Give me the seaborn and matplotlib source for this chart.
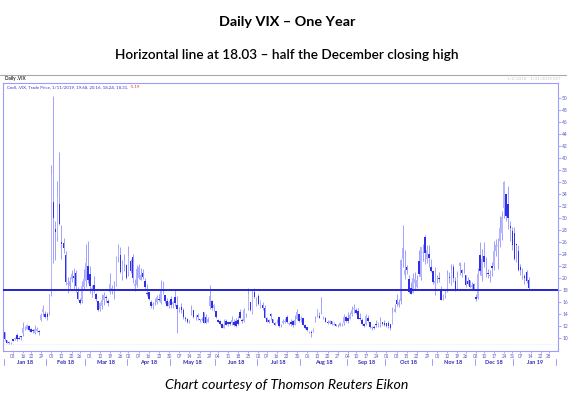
"""
Daily VIX - one year candlestick chart (Eikon style) with a horizontal
line at 18.03, half the December 2018 closing high.
"""

import numpy as np
import pandas as pd
import matplotlib
matplotlib.use("Agg")
import matplotlib.pyplot as plt
import matplotlib.transforms as mtransforms
from matplotlib.lines import Line2D
import seaborn as sns

# Exchange holidays skipped on the date axis
holidays = ["2018-01-15", "2018-02-19", "2018-03-30", "2018-05-28", "2018-07-04",
            "2018-09-03", "2018-11-22", "2018-12-05", "2018-12-25",
            "2019-01-01", "2019-01-21"]

# Daily OHLC, 2018-01-02 .. 2019-01-11 (one row of numbers per month)
vix_open = [
    10.95, 9.70, 9.30, 9.12, 9.80, 9.80, 10.55, 10.02, 10.25, 10.84, 11.79, 11.58, 12.05, 11.52, 11.31, 10.76, 11.24, 11.18, 12.93, 14.37, 14.05,
    13.97, 14.35, 18.44, 32.74, 28.16, 26.87, 32.40, 25.99, 25.77, 23.83, 18.99, 18.59, 19.75, 20.33, 20.87, 17.69, 16.41, 16.19, 18.57,
    19.49, 21.93, 20.73, 18.12, 18.85, 17.30, 16.12, 14.76, 15.41, 16.35, 16.79, 16.14, 17.59, 18.16, 18.23, 18.78, 23.50, 23.91, 20.10, 22.28, 22.10,
    20.92, 22.76, 23.44, 18.71, 18.79, 20.05, 19.66, 20.78, 19.45, 17.52, 17.60, 15.97, 15.54, 15.94, 16.04, 16.55, 15.88, 17.89, 17.11, 16.23, 15.30,
    16.53, 15.72, 16.83, 15.44, 14.60, 15.23, 14.71, 13.40, 13.16, 12.72, 14.43, 14.59, 13.43, 13.77, 13.10, 12.99, 14.27, 13.44, 12.64, 15.28, 16.12, 14.92,
    14.54, 13.05, 12.77, 12.32, 11.74, 12.87, 12.66, 12.69, 12.44, 12.65, 12.86, 13.08, 14.34, 13.06, 12.81, 13.86, 14.76, 16.01, 14.12, 17.71, 15.58,
    16.93, 15.03, 15.50, 15.08, 13.31, 13.06, 14.05, 13.12, 12.43, 12.75, 13.44, 12.15, 12.48, 12.74, 13.56, 12.35, 12.63, 12.79, 12.13, 13.24, 13.93,
    12.94, 13.36, 12.11, 11.83, 11.05, 11.06, 10.97, 12.91, 13.71, 13.73, 14.54, 13.46, 13.34, 12.72, 12.44, 12.83, 12.16, 12.29, 12.10, 12.03, 12.35, 12.42, 13.45,
    13.40, 13.23, 14.00, 14.88, 14.68, 14.57, 13.32, 13.05, 12.25, 12.34, 13.38, 12.60, 11.64, 11.77, 12.36, 12.10, 12.56, 12.61, 12.51,
    12.42, 12.44, 12.38, 12.41, 14.37, 16.39, 15.52, 16.14, 23.12, 20.48, 21.77, 19.90, 18.27, 17.56, 19.12, 18.50, 22.89, 20.18, 24.17, 26.83, 23.10, 24.05, 21.84,
    21.12, 19.10, 20.01, 20.06, 18.04, 16.55, 17.08, 17.93, 20.21, 19.26, 21.82, 19.51, 18.39, 22.03, 21.36, 21.42, 20.48, 19.53, 19.62, 18.54, 18.95,
    16.79, 16.67, 23.81, 20.31, 23.65, 21.82, 20.79, 20.33, 22.02, 21.99, 24.47, 25.27, 26.13, 27.44, 31.62, 33.98, 32.39, 28.60, 27.80,
    27.54, 25.68, 24.53, 21.75, 20.35, 20.33, 21.07, 19.68,
]
vix_high = [
    10.95, 9.70, 9.47, 9.36, 9.84, 10.20, 10.87, 10.31, 10.32, 12.71, 12.03, 12.38, 12.19, 11.70, 11.53, 12.20, 11.88, 11.31, 14.18, 15.52, 14.49,
    14.26, 17.35, 38.80, 50.30, 29.49, 36.17, 41.06, 28.83, 26.64, 24.46, 20.14, 20.23, 21.36, 21.61, 21.37, 18.51, 16.67, 19.56, 21.53,
    25.72, 26.16, 22.06, 18.91, 20.36, 17.44, 16.20, 15.92, 17.41, 17.64, 17.22, 16.51, 20.75, 18.75, 19.46, 23.62, 25.72, 25.11, 22.92, 24.03, 22.29,
    25.29, 23.13, 23.99, 19.81, 22.18, 22.25, 21.67, 21.58, 20.08, 19.03, 17.66, 16.25, 15.96, 16.63, 17.24, 17.41, 19.72, 19.43, 17.18, 16.70, 16.38,
    16.92, 16.17, 18.09, 16.93, 15.14, 15.87, 15.00, 13.62, 13.34, 13.05, 15.58, 14.64, 13.81, 14.11, 13.21, 13.42, 14.31, 13.93, 13.55, 18.78, 16.38, 15.66,
    14.57, 13.23, 12.95, 12.44, 13.14, 13.16, 12.73, 12.77, 13.73, 13.16, 13.38, 13.60, 14.80, 13.35, 15.01, 14.09, 18.38, 16.06, 18.10, 18.32, 16.80,
    17.25, 16.26, 15.95, 15.45, 13.47, 13.20, 14.21, 13.14, 12.74, 13.18, 13.49, 12.38, 13.22, 13.37, 13.78, 12.72, 13.12, 12.98, 13.75, 14.79, 13.99,
    13.61, 13.36, 12.28, 11.85, 11.14, 11.29, 11.65, 13.59, 14.86, 14.29, 16.86, 13.68, 13.43, 12.96, 13.01, 12.85, 12.70, 12.35, 12.38, 12.64, 12.48, 14.06, 13.68,
    14.25, 14.38, 15.34, 15.59, 15.03, 14.98, 14.17, 13.25, 12.53, 14.02, 13.76, 12.73, 12.00, 12.14, 12.95, 12.69, 13.48, 12.72, 12.93,
    12.52, 12.84, 12.39, 15.12, 15.69, 17.36, 16.45, 23.17, 28.84, 24.65, 22.16, 20.58, 19.32, 20.79, 21.03, 20.55, 24.64, 25.23, 25.65, 27.13, 25.49, 25.55, 23.20,
    21.14, 21.87, 20.42, 20.95, 18.73, 17.34, 18.09, 21.31, 21.05, 22.40, 22.29, 20.24, 21.19, 22.67, 21.53, 22.64, 20.49, 20.19, 19.64, 19.29, 19.21,
    17.27, 21.69, 25.94, 24.81, 25.94, 23.43, 21.56, 21.26, 22.74, 26.15, 26.58, 26.69, 30.29, 31.20, 36.20, 34.07, 35.35, 29.49, 28.52,
    28.53, 25.80, 25.56, 22.31, 21.59, 20.66, 21.33, 20.16,
]
vix_low = [
    9.48, 9.12, 8.92, 8.92, 9.46, 9.72, 9.58, 9.80, 9.70, 10.40, 11.26, 11.54, 11.20, 10.94, 10.85, 10.66, 11.04, 10.57, 12.79, 13.65, 13.26,
    13.05, 13.82, 17.05, 22.42, 22.95, 26.13, 28.91, 23.23, 24.11, 18.87, 17.54, 17.96, 19.40, 18.22, 17.62, 16.39, 15.73, 15.85, 18.04,
    18.55, 19.11, 17.45, 16.80, 17.43, 16.12, 14.55, 14.54, 14.86, 15.49, 16.05, 15.41, 17.39, 17.36, 16.53, 18.62, 22.67, 20.78, 19.66, 21.20, 19.91,
    20.36, 20.88, 19.19, 17.87, 18.53, 19.84, 19.66, 19.90, 18.20, 16.94, 16.40, 15.08, 14.83, 15.53, 15.67, 16.20, 15.61, 17.41, 15.79, 15.37, 14.94,
    15.06, 15.00, 15.29, 10.90, 14.28, 14.19, 13.18, 12.82, 12.46, 12.47, 13.75, 13.37, 12.98, 13.06, 12.62, 12.76, 12.49, 12.46, 12.59, 14.76, 14.72, 14.47,
    13.29, 12.59, 12.24, 11.60, 11.64, 12.16, 12.07, 12.17, 12.18, 11.98, 11.83, 12.11, 13.29, 12.56, 12.68, 13.57, 14.61, 14.44, 13.96, 16.61, 15.39,
    15.48, 14.97, 14.63, 13.29, 12.66, 12.46, 12.93, 12.43, 12.10, 12.51, 11.83, 11.77, 12.33, 12.48, 12.46, 12.11, 11.95, 11.91, 12.13, 12.99, 12.70,
    12.74, 12.13, 11.54, 11.12, 10.75, 10.17, 10.95, 12.69, 13.42, 13.27, 13.93, 13.20, 12.60, 12.35, 12.35, 12.19, 12.10, 11.92, 11.90, 11.96, 11.95, 12.20, 12.65,
    12.56, 13.12, 13.63, 14.12, 13.97, 13.15, 12.93, 12.19, 11.80, 12.22, 12.67, 11.73, 11.38, 11.50, 11.80, 11.91, 11.85, 12.10, 12.00,
    11.90, 11.61, 11.34, 12.38, 14.30, 15.40, 15.16, 15.73, 21.90, 19.88, 20.73, 17.58, 17.30, 17.56, 17.98, 18.40, 20.38, 19.65, 22.76, 22.30, 22.47, 21.84, 20.93,
    18.99, 17.12, 19.10, 19.31, 16.28, 16.29, 16.64, 17.63, 19.09, 18.84, 19.41, 17.86, 18.20, 20.55, 20.18, 20.84, 18.58, 18.78, 18.39, 18.07, 17.93,
    16.12, 16.55, 20.43, 19.45, 21.90, 20.21, 19.95, 19.33, 20.27, 21.40, 23.59, 21.57, 25.09, 26.39, 29.99, 29.51, 28.11, 26.22, 24.65,
    23.01, 22.61, 21.14, 20.46, 19.75, 19.06, 19.15, 18.24,
]
vix_close = [
    9.77, 9.15, 9.22, 9.22, 9.52, 10.08, 9.82, 9.88, 10.16, 11.66, 11.91, 12.22, 11.27, 11.03, 11.10, 11.47, 11.58, 11.08, 13.84, 14.79, 13.54,
    13.47, 17.31, 37.32, 29.98, 27.73, 33.46, 29.06, 25.61, 24.97, 19.26, 19.13, 19.46, 20.60, 20.02, 18.72, 16.49, 15.80, 18.59, 19.85,
    22.47, 19.59, 18.73, 18.36, 17.76, 16.54, 14.64, 15.78, 16.35, 17.23, 16.59, 15.80, 19.02, 18.20, 17.86, 23.34, 24.87, 21.03, 22.50, 22.87, 19.97,
    23.62, 21.10, 20.06, 18.94, 21.49, 21.77, 20.47, 20.24, 18.49, 17.41, 16.56, 15.25, 15.60, 15.96, 16.88, 16.34, 18.02, 17.84, 16.24, 15.41, 15.93,
    15.49, 15.97, 15.90, 14.77, 14.75, 14.71, 13.42, 13.23, 12.65, 12.93, 14.63, 13.42, 13.43, 13.42, 13.08, 13.22, 12.58, 12.53, 13.22, 17.02, 14.94, 15.43,
    13.46, 12.74, 12.40, 11.64, 12.13, 12.18, 12.35, 12.34, 12.94, 12.12, 11.98, 12.31, 13.35, 12.79, 14.64, 13.77, 17.33, 14.64, 17.91, 16.85, 16.09,
    15.60, 16.14, 14.97, 13.37, 12.69, 12.64, 13.63, 12.58, 12.18, 12.83, 12.06, 12.10, 12.87, 12.86, 12.62, 12.41, 12.29, 12.14, 13.03, 14.26, 12.83,
    13.15, 12.19, 11.64, 11.27, 10.93, 10.85, 11.27, 13.16, 14.78, 13.31, 14.64, 13.45, 12.64, 12.49, 12.86, 12.25, 12.41, 11.99, 12.16, 12.50, 12.25, 13.53, 12.86,
    12.88, 13.91, 14.65, 14.88, 14.16, 13.22, 13.14, 12.37, 12.07, 13.68, 12.79, 11.75, 11.80, 11.68, 12.20, 12.42, 12.89, 12.41, 12.12,
    12.00, 12.05, 11.61, 14.22, 14.82, 15.69, 15.95, 22.96, 24.98, 21.31, 21.30, 17.62, 17.40, 20.06, 19.89, 19.64, 20.71, 25.23, 24.22, 24.16, 24.70, 23.35, 21.23,
    19.34, 19.51, 19.96, 19.91, 16.36, 16.72, 17.36, 20.45, 20.02, 21.25, 19.98, 18.14, 20.10, 22.48, 20.80, 21.52, 18.90, 19.02, 18.49, 18.79, 18.07,
    16.44, 20.74, 21.19, 23.23, 22.64, 21.76, 20.65, 20.48, 21.63, 24.52, 25.58, 25.58, 28.38, 30.11, 36.07, 30.41, 29.96, 28.34, 25.42,
    23.22, 25.45, 21.38, 21.40, 20.47, 19.98, 19.50, 18.31,
]

half_dec_high = 18.03
y_ticks = list(range(10, 52, 2))

# first trading day of each week, as labelled on the date axis
week_labels = [
    "2018-01-08", "2018-01-16", "2018-01-22", "2018-01-29", "2018-02-05", "2018-02-12",
    "2018-02-20", "2018-02-26", "2018-03-05", "2018-03-12", "2018-03-19", "2018-03-26",
    "2018-04-02", "2018-04-09", "2018-04-16", "2018-04-23", "2018-04-30", "2018-05-07",
    "2018-05-14", "2018-05-21", "2018-05-29", "2018-06-04", "2018-06-11", "2018-06-18",
    "2018-06-25", "2018-07-02", "2018-07-09", "2018-07-16", "2018-07-23", "2018-07-30",
    "2018-08-06", "2018-08-13", "2018-08-20", "2018-08-27", "2018-09-04", "2018-09-10",
    "2018-09-17", "2018-09-24", "2018-10-01", "2018-10-08", "2018-10-15", "2018-10-22",
    "2018-10-29", "2018-11-05", "2018-11-12", "2018-11-19", "2018-11-26", "2018-12-03",
    "2018-12-10", "2018-12-17", "2018-12-24", "2018-12-31", "2019-01-07", "2019-01-14",
    "2019-01-22", "2019-01-28",
]

# colours
UP = "#b4b4ff"
DOWN = "#2f2fe6"
WICK = "#9090ff"
FRAME = "#9c9cff"
TICKTXT = "#5c5cc8"
LEVEL = "#2424d0"

# date axis: trading days through end of January 2019
axis_days = pd.bdate_range("2018-01-02", "2019-01-31")
axis_days = axis_days[~axis_days.isin(pd.to_datetime(holidays))]
pos = pd.Series(np.arange(len(axis_days)), index=axis_days)

df = pd.DataFrame({
    "date": axis_days[:len(vix_close)],
    "open": vix_open, "high": vix_high, "low": vix_low, "close": vix_close,
})
df["x"] = np.arange(len(df))
df["up"] = df["close"] >= df["open"]
df["body_lo"] = df[["open", "close"]].min(axis=1)
df["body_h"] = (df["close"] - df["open"]).abs().clip(lower=0.12)

sns.set_theme(style="white")
plt.rcParams["font.family"] = ["Lato", "DejaVu Sans"]

W, H = 574, 397
fig = plt.figure(figsize=(W / 100, H / 100), dpi=100)
L, R, T, B = 3, 558, 83, 351
ax = fig.add_axes([L / W, 1 - B / H, (R - L) / W, (B - T) / H])

# candles
ax.vlines(df["x"], df["low"], df["high"], color=WICK, lw=0.6, zorder=2)
for is_up, color in [(True, UP), (False, DOWN)]:
    sub = df[df["up"] == is_up]
    ax.bar(sub["x"], sub["body_h"], bottom=sub["body_lo"], width=0.75,
           color=color, linewidth=0, zorder=3)

ax.axhline(half_dec_high, color=LEVEL, lw=1.4, zorder=4)
ax.axhline(9.0, color="#dcdcf2", lw=0.6, ls=(0, (1, 2)), zorder=1)

ax.set_xlim(-0.8, 272.5)
ax.set_ylim(7.83, 52.5)

# axes styling
for side in ["left", "top", "bottom", "right"]:
    ax.spines[side].set_color(FRAME)
    ax.spines[side].set_linewidth(0.8)
ax.yaxis.tick_right()
ax.set_yticks(y_ticks)
ax.set_yticklabels([str(v) for v in y_ticks])
ax.tick_params(axis="y", which="both", right=True, left=False, length=2, width=0.6,
               color=FRAME, labelsize=3.5, labelcolor=TICKTXT, pad=1)

xt = [pos[pd.Timestamp(d)] for d in week_labels]
ax.set_xticks(xt)
ax.set_xticklabels([pd.Timestamp(d).strftime("%d") for d in week_labels])
ax.tick_params(axis="x", bottom=True, length=1.5, width=0.6, color=FRAME,
               labelsize=3.3, labelcolor=TICKTXT, pad=0.6)
ax.set_xlabel("")
ax.set_ylabel("")
ax.grid(False)

# month bands under the day labels
trans = mtransforms.blended_transform_factory(ax.transData, ax.transAxes)
months = pd.Series(pos.values, index=axis_days).groupby(axis_days.to_period("M"))
for per, idx in months:
    start = idx.min() - 0.5
    ax.add_line(Line2D([start, start], [-0.028, -0.052], transform=trans,
                       color=FRAME, lw=0.7, clip_on=False))
    ax.text(idx.mean(), -0.042, per.strftime("%b %y"), transform=trans,
            ha="center", va="center", fontsize=4.0, fontweight="bold",
            color="#2a2ab4", clip_on=False)
end = pos.iloc[-1] + 0.5
ax.add_line(Line2D([end, end], [-0.028, -0.052], transform=trans,
                   color=FRAME, lw=0.7, clip_on=False))

# Eikon header strip
fig.add_artist(Line2D([0, 566 / W], [1 - 75 / H, 1 - 75 / H], color="#a8a8a8", lw=0.8))
fig.text(5 / W, 1 - 78.5 / H, "Daily .VIX", fontsize=3.4, fontweight="bold",
         color="#303030", va="center", ha="left")
fig.text(561 / W, 1 - 79.5 / H, "1/2/2018 - 1/31/2019 EST", fontsize=3.2,
         color="#c8c8c8", va="center", ha="right")
hdr = "Cndl, .VIX, Trade Price, 1/11/2019, 19.68, 20.16, 18.24, 18.31, "
t = fig.text(7 / W, 1 - 87 / H, hdr, fontsize=3.2, color="#3535c8", va="center", ha="left")
fig.canvas.draw()
bb = t.get_window_extent()
fig.text(bb.x1 / W, 1 - 87 / H, "-1.19", fontsize=3.2, color="#e03030",
         va="center", ha="left")

# titles and credit
fig.text(0.5, 1 - 22 / H, "Daily VIX \u2013 One Year", ha="center", va="center",
         fontsize=10.4, fontweight="bold", color="black")
fig.text(0.5, 1 - 55 / H, "Horizontal line at 18.03 \u2013 half the December closing high",
         ha="center", va="center", fontsize=9.8, fontweight="semibold", color="black")
fig.text(0.5, 1 - 385 / H, "Chart courtesy of Thomson Reuters Eikon", ha="center",
         va="center", fontsize=10.2, fontstyle="italic", color="black")

fig.savefig("out.png", dpi=100)
